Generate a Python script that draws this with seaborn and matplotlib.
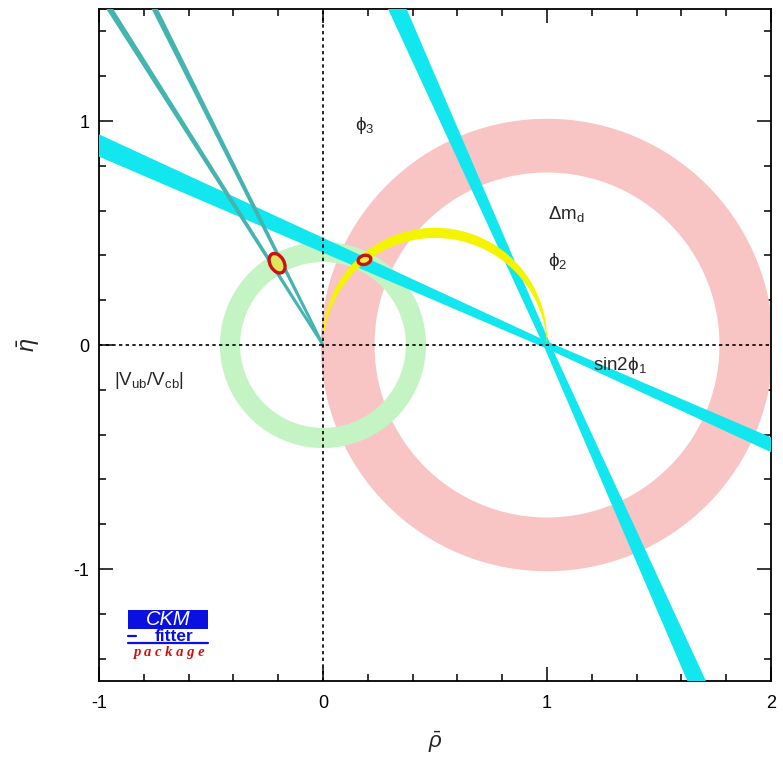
import numpy as np
import matplotlib
matplotlib.use("Agg")
import matplotlib.pyplot as plt
from matplotlib.patches import Ellipse, Rectangle, PathPatch, Polygon
from matplotlib.path import Path
from matplotlib.ticker import MultipleLocator
import seaborn as sns

# ---- constraints in the (rho-bar, eta-bar) plane ----
# Delta m_d ring around (1, 0)
dmd_center = [1.0, 0.0]
dmd_radii = [0.77, 1.01]
# |Vub/Vcb| ring around the origin
vub_center = [0.0, 0.0]
vub_radii = [0.37, 0.46]
# sin2phi1: phi1 and its spread (degrees)
phi1_deg = [24.0]
phi1_err_deg = [0.8]
# phi3 solutions and spread (degrees)
phi3_deg = [116.6, 122.4]
phi3_err_deg = [0.23, 0.23]
# phi2 band (degrees)
phi2_deg = [90.0]
phi2_err_deg = [2.6]
# preferred regions of the global fit
fit_rho = [-0.205, 0.185]
fit_eta = [0.365, 0.380]
fit_w = [0.062, 0.058]
fit_h = [0.094, 0.040]
fit_angle = [30, 15]

x_ticks = [-1, 0, 1, 2]
y_ticks = [-1, 0, 1]

# ---- style ----
sns.set_theme(style="ticks")
plt.rcParams["font.family"] = ["Liberation Sans", "DejaVu Sans"]
plt.rcParams["mathtext.fontset"] = "custom"
plt.rcParams["mathtext.rm"] = "Liberation Sans"
plt.rcParams["mathtext.it"] = "Liberation Sans:italic"

PINK = "#f9c4c4"
GREEN = "#c4f4c4"
CYAN = "#12e6ee"
TEAL = "#44b4b0"
YELLOW = "#f4f400"
RED = "#cc1111"
BLUE = "#0a10e0"

fig = plt.figure(figsize=(7.83, 7.57), dpi=100)
ax = fig.add_axes([99 / 783, 76 / 757, 672 / 783, 672 / 757])
ax.set_xlim(-1, 2)
ax.set_ylim(-1.5, 1.5)


def ring(ax, center, radii, color, z):
    t = np.linspace(0, 2 * np.pi, 400)
    cx, cy = center
    r_in, r_out = radii
    outer = np.column_stack([cx + r_out * np.cos(t), cy + r_out * np.sin(t)])
    inner = np.column_stack([cx + r_in * np.cos(t[::-1]), cy + r_in * np.sin(t[::-1])])
    verts = np.vstack([outer, inner])
    codes = np.full(len(verts), Path.LINETO)
    codes[0] = Path.MOVETO
    codes[len(outer)] = Path.MOVETO
    ax.add_patch(PathPatch(Path(verts, codes), facecolor=color, edgecolor="none", zorder=z))


def band(ax, apex, ang_deg, err_deg, base, color, z, both=True, L=6.0):
    """Straight band from apex at angle ang_deg, opening with err_deg."""
    x0, y0 = np.asarray(apex, float)
    a = np.radians(ang_deg)
    u = np.array([np.cos(a), np.sin(a)])
    n = np.array([-np.sin(a), np.cos(a)])
    k = np.tan(np.radians(err_deg))
    s_vals = [-L, 0.0, L] if both else [0.0, L]
    p0 = np.array([x0, y0])
    upper = [p0 + s * u + n * (base + k * abs(s)) for s in s_vals]
    lower = [p0 + s * u - n * (base + k * abs(s)) for s in s_vals[::-1]]
    ax.add_patch(Polygon(upper + lower, closed=True, facecolor=color,
                         edgecolor="none", zorder=z))


def phi2_arc(phi_deg, n=300):
    phi = np.radians(phi_deg)
    cy = 0.5 / np.tan(phi)
    r = 0.5 / np.sin(phi)
    t1 = np.arctan2(-cy, 0.5)
    t = np.linspace(t1, t1 + 2 * np.pi - 2 * phi, n)
    return 0.5 + r * np.cos(t), cy + r * np.sin(t)


# rings
ring(ax, dmd_center, dmd_radii, PINK, 1)
ring(ax, vub_center, vub_radii, GREEN, 2)

# sin2phi1: two solutions through (1, 0)
p1 = phi1_deg[0]
for ang in (180 - p1, 90 + p1):
    band(ax, (1.0, 0.0), ang, phi1_err_deg[0], 0.015, CYAN, 3, both=True)

# phi3 from the origin
for ang, err in zip(phi3_deg, phi3_err_deg):
    band(ax, (0.0, 0.0), ang, err, 0.006, TEAL, 4, both=False)

# phi2 band between two circular arcs
xa, ya = phi2_arc(phi2_deg[0] - phi2_err_deg[0])
xb, yb = phi2_arc(phi2_deg[0] + phi2_err_deg[0])
ax.fill(np.concatenate([xa, xb[::-1]]), np.concatenate([ya, yb[::-1]]),
        color=YELLOW, lw=0, zorder=5)

# dotted axes
sns.lineplot(x=[-1, 2], y=[0, 0], estimator=None, sort=False, color="black",
             lw=1.2, linestyle=(0, (2, 2)), ax=ax, zorder=6)
sns.lineplot(x=[0, 0], y=[-1.5, 1.5], estimator=None, sort=False, orient="y",
             color="black", lw=1.2, linestyle=(0, (2, 2)), ax=ax, zorder=6)

# fit regions
fills = ["#dce85a", "#f8f040"]
for r, e, w, h, a, fc in zip(fit_rho, fit_eta, fit_w, fit_h, fit_angle, fills):
    ax.add_patch(Ellipse((r, e), w, h, angle=a, facecolor=fc, edgecolor=RED,
                         lw=2.4, zorder=7))

# labels on the plane
fs = 13.5
ax.text(0.143, 0.98, r"ϕ$_{\rm 3}$", fontsize=fs, ha="left", va="center", zorder=8)
ax.text(1.004, 0.585, r"Δm$_{\rm d}$", fontsize=fs, ha="left", va="center", zorder=8)
ax.text(1.004, 0.375, r"ϕ$_{\rm 2}$", fontsize=fs, ha="left", va="center", zorder=8)
ax.text(1.205, -0.09, r"sin2ϕ$_{\rm 1}$", fontsize=fs, ha="left", va="center", zorder=8)
ax.text(-0.935, -0.16, r"|V$_{\rm ub}$/V$_{\rm cb}$|", fontsize=fs, ha="left",
        va="center", zorder=8)

# package logo
ax.add_patch(Rectangle((-0.87, -1.27), 0.355, 0.088, facecolor=BLUE,
                       edgecolor="none", zorder=8))
ax.text(-0.69, -1.224, "CKM", color="white", fontsize=14.5, style="italic",
        ha="center", va="center", zorder=9)
ax.text(-0.665, -1.300, "fitter", color=BLUE, fontsize=12.5, fontweight="bold",
        ha="center", va="center", zorder=9)
ax.plot([-0.87, -0.515], [-1.332, -1.332], color=BLUE, lw=1.6, zorder=9)
ax.plot([-0.87, -0.835], [-1.300, -1.300], color=BLUE, lw=1.6, zorder=9)
ax.text(-0.69, -1.372, "p a c k a g e", color="#cc1111", fontsize=10.5,
        family=["Liberation Serif", "DejaVu Serif"], style="italic",
        fontweight="bold", ha="center", va="center", zorder=9)

# axes, ticks, labels
ax.set_xticks(x_ticks)
ax.set_yticks(y_ticks)
ax.set_xticklabels([str(v) for v in x_ticks])
ax.set_yticklabels([str(v) for v in y_ticks])
ax.xaxis.set_minor_locator(MultipleLocator(0.2))
ax.yaxis.set_minor_locator(MultipleLocator(0.2))
ax.tick_params(which="both", direction="in", top=True, right=True,
               colors="black", width=1.1, labelsize=13)
ax.tick_params(which="major", length=10)
ax.tick_params(which="minor", length=5)
ax.tick_params(axis="x", pad=10)
ax.tick_params(axis="y", pad=7)
for s in ax.spines.values():
    s.set_visible(True)
    s.set_color("black")
    s.set_linewidth(1.3)

ax.set_xlabel(r"$\bar{\rho}$", fontsize=16)
ax.set_ylabel(r"$\bar{\eta}$", fontsize=17)
ax.xaxis.set_label_coords(0.5, -0.072)
ax.yaxis.set_label_coords(-0.085, 0.5)
ax.set_facecolor("white")
fig.patch.set_facecolor("white")

fig.savefig("out.png", dpi=100, facecolor="white")
